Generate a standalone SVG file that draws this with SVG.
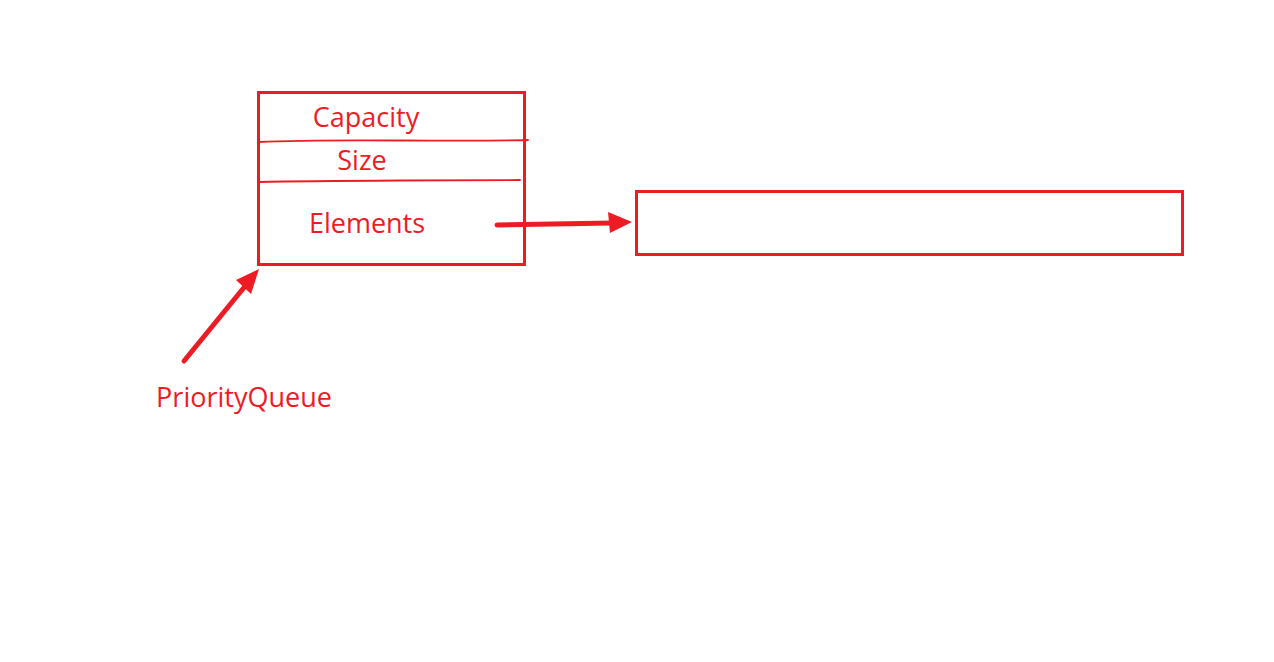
<svg xmlns="http://www.w3.org/2000/svg" width="1274" height="662" viewBox="0 0 1274 662">
<style>
.box{fill:none;stroke:#ED1C24;stroke-width:3}
.div{fill:none;stroke:#ED1C24;stroke-width:1.8;stroke-linecap:round}
.lbl{fill:#ED1C24;font-family:"Open Sans","Noto Sans",sans-serif;font-size:27px}
.arr{fill:none;stroke:#ED1C24;stroke-width:5;stroke-linecap:round}
.head{fill:#ED1C24}
</style>
<rect width="1274" height="662" fill="#fff"/>
<g id="priorityqueue">
<rect class="box" x="258.5" y="92.5" width="266" height="172"/>
<path class="div" d="M259 142 Q 300 140 400 140.5 T 528 140"/>
<path class="div" d="M259 182 Q 300 181 400 180.5 T 520 180"/>
<text class="lbl" x="366" y="127" text-anchor="middle">Capacity</text>
<text class="lbl" x="362" y="170" text-anchor="middle">Size</text>
<text class="lbl" x="367" y="233" text-anchor="middle">Elements</text>
</g>
<g id="elements-array">
<rect class="box" x="636.5" y="191.5" width="546" height="63"/>
</g>
<g id="label">
<text class="lbl" x="244" y="407" text-anchor="middle">PriorityQueue</text>
</g>
<g id="connectors">
<path class="arr" d="M497 225 L612 223"/>
<polygon class="head" points="632,222 608,212 610,233"/>
<path class="arr" d="M184 361 L246 285"/>
<polygon class="head" points="259,269 236,280 251,294"/>
</g>
</svg>
